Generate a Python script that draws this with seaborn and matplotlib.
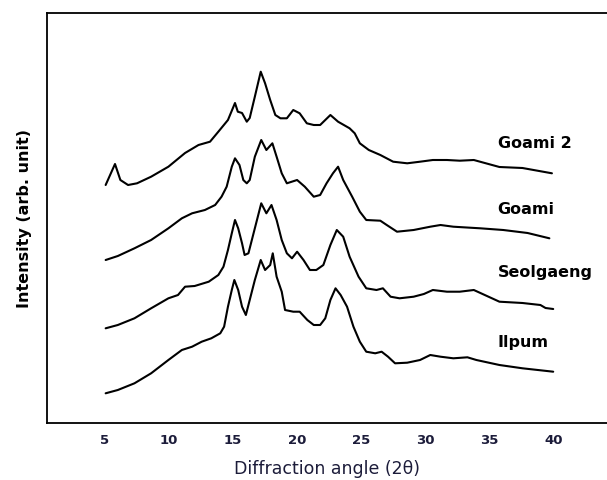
import numpy as np
import pandas as pd
import matplotlib
matplotlib.use("Agg")
import matplotlib.pyplot as plt
import seaborn as sns

# ---- data (2theta, intensity in arbitrary units, already stacked) ----
goami2_x = [5.05, 5.78, 6.2, 6.8, 7.5, 8.6, 9.95, 11.25, 12.3, 13.2, 13.85, 14.6, 15.15, 15.37, 15.7,
            16.07, 16.3, 16.7, 17.16, 17.5, 17.9, 18.3, 18.7, 19.2, 19.7, 20.2, 20.76, 21.3, 21.8, 22.6,
            23.2, 24.1, 24.5, 24.9, 25.6, 26.5, 27.5, 28.6, 29.6, 30.6, 31.7, 32.7, 33.8, 35.8, 37.6, 39.9]
goami2_y = [238, 259, 243, 238, 239.7, 246.3, 256.3, 270, 278, 281.3, 291.3, 303, 320, 311.3, 310,
            301.3, 305, 326.3, 351.3, 339.7, 323, 308, 304.7, 304.7, 313, 309.7, 299.7, 298, 298, 308,
            301.3, 294.7, 289.7, 279.7, 273, 268, 261.3, 259.7, 261.3, 263, 263, 262.3, 263, 256, 255, 249.7]

goami_x = [5.05, 6.0, 7.3, 8.6, 9.95, 11.0, 11.8, 12.8, 13.6, 14.1, 14.5, 14.9, 15.15, 15.5, 15.8,
           16.07, 16.3, 16.7, 17.2, 17.6, 18.07, 18.4, 18.8, 19.2, 20.0, 20.6, 21.3, 21.8, 22.3, 22.8,
           23.2, 23.6, 24.3, 24.9, 25.4, 26.5, 27.0, 27.8, 29.1, 30.4, 31.2, 32.2, 33.5, 34.3, 36.1, 38.0, 39.7]
goami_y = [163, 167, 174.7, 183, 194.7, 204.7, 209.7, 213, 218, 226.3, 236.3, 256.3, 264.7, 258, 243,
           239.7, 243, 266.3, 283, 273, 279.7, 266.3, 249.7, 239.7, 243, 236.3, 226.3, 228, 239.7, 249.7,
           256.3, 243, 226.3, 211.3, 203, 202.3, 198, 191.3, 193, 196.3, 198, 196.3, 195.3, 194.7, 193, 190, 184.7]

seol_x = [5.05, 6.0, 7.3, 8.6, 9.95, 10.7, 11.25, 12.0, 13.1, 13.85, 14.25, 14.6, 14.9, 15.15, 15.4,
          15.7, 15.9, 16.2, 16.6, 17.0, 17.2, 17.6, 18.0, 18.4, 18.8, 19.2, 19.6, 20.0, 20.5, 21.0,
          21.5, 22.05, 22.6, 23.1, 23.6, 24.1, 24.8, 25.4, 26.2, 26.7, 27.3, 28.0, 29.1, 29.9, 30.6,
          31.7, 32.7, 33.8, 35.8, 37.6, 39.0, 39.4, 40.0]
seol_y = [94.7, 98, 104.7, 114.7, 124.7, 128, 136.3, 137, 141.3, 148, 156.3, 173, 189.7, 203, 194.7,
          179.7, 168, 169.7, 189.7, 209.7, 219.7, 209.7, 218, 203, 183, 169.7, 164.7, 171.3, 163, 153,
          153, 158, 178, 193, 186.3, 166.3, 146.3, 134.7, 133, 134.7, 126.3, 124.7, 126.3, 129, 133,
          131.3, 131.3, 133, 121.3, 120, 118, 115, 114]

ilpum_x = [5.05, 6.0, 7.3, 8.6, 9.95, 11.0, 11.8, 12.55, 13.3, 14.0, 14.3, 14.6, 14.9, 15.1, 15.4,
           15.7, 16.0, 16.3, 16.7, 17.16, 17.5, 17.9, 18.1, 18.4, 18.8, 19.06, 19.7, 20.2, 20.8, 21.3,
           21.8, 22.2, 22.6, 23.0, 23.4, 23.9, 24.4, 24.9, 25.4, 26.1, 26.6, 27.1, 27.65, 28.6, 29.6,
           30.4, 31.2, 32.2, 33.3, 34.0, 35.8, 37.6, 40.0]
ilpum_y = [29.7, 33, 39.7, 49.7, 63, 73, 76.3, 81.3, 84.7, 89.7, 96.3, 116.3, 133, 143, 133,
           116.3, 108, 123, 143, 163, 153, 158, 169.7, 146.3, 131.3, 113, 111.3, 111.3, 103, 98,
           98, 104.7, 123, 134.7, 128, 116.3, 96.3, 81.3, 71.3, 69.7, 71.3, 66.3, 59.7, 60.3, 63,
           68, 66.3, 64.7, 65.7, 63, 58, 54.7, 51.3]

samples = ["Goami 2", "Goami", "Seolgaeng", "Ilpum"]
label_y = [280, 213, 150, 80]
tick_vals = [5, 10, 15, 20, 25, 30, 35, 40]

series = {"Goami 2": (goami2_x, goami2_y), "Goami": (goami_x, goami_y),
          "Seolgaeng": (seol_x, seol_y), "Ilpum": (ilpum_x, ilpum_y)}
df = pd.concat([pd.DataFrame({"angle": xs, "intensity": ys, "sample": name})
                for name, (xs, ys) in series.items()], ignore_index=True)

sns.set_theme(style="white")
plt.rcParams["font.family"] = ["DejaVu Sans"]

fig = plt.figure(figsize=(6.07, 4.80), dpi=100)
ax = fig.add_axes([47 / 607, 57 / 480, 1 - 47 / 607, 410 / 480])

sns.lineplot(data=df, x="angle", y="intensity", hue="sample", hue_order=samples,
             palette=["black"] * 4, estimator=None, sort=False, linewidth=1.5,
             legend=False, ax=ax)

for name, ly in zip(samples, label_y):
    ax.text(35.66, ly, name, ha="left", va="center", fontsize=11.5,
            fontweight="bold", color="black")

ax.set_xlim(0.47, 44.2)
ax.set_ylim(0, 410)
ax.set_xticks(tick_vals)
ax.set_xticklabels([str(t) for t in tick_vals], fontsize=9.5, fontweight="bold", color="#1c1c3a")
ax.set_yticks([])
ax.tick_params(axis="x", length=0, pad=8)
ax.set_xlabel("Diffraction angle (2\u03b8)", fontsize=12.5, color="#1c1c3a", labelpad=9)
ax.set_ylabel("Intensity (arb. unit)", fontsize=11.5, fontweight="bold", color="black", labelpad=11)

for side in ["left", "top", "bottom"]:
    ax.spines[side].set_visible(True)
    ax.spines[side].set_color("black")
    ax.spines[side].set_linewidth(1.3)
ax.spines["right"].set_visible(False)

fig.savefig("out.png", dpi=100)
